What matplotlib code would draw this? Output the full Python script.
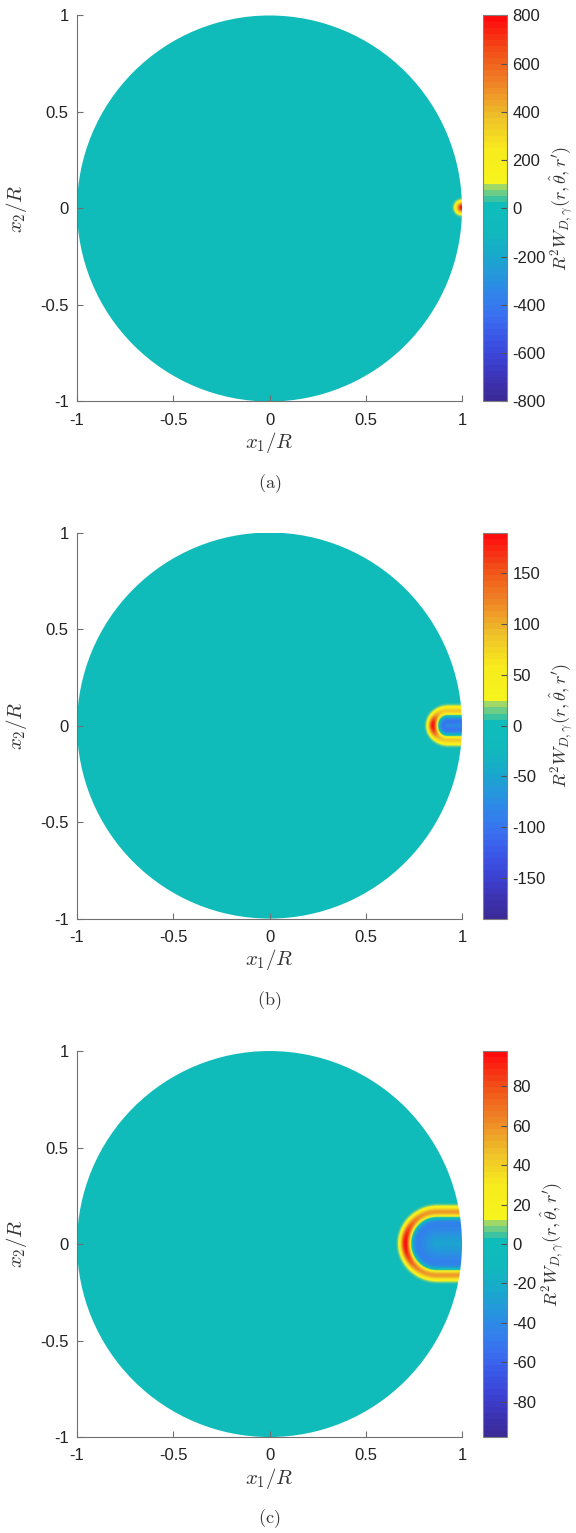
import numpy as np
import matplotlib
matplotlib.use('Agg')
import matplotlib.pyplot as plt
from matplotlib.colors import ListedColormap, LinearSegmentedColormap, Normalize
from matplotlib.patches import Circle

plt.rcParams['font.family'] = ['Liberation Sans', 'DejaVu Sans']
plt.rcParams['mathtext.fontset'] = 'cm'
plt.rcParams['axes.unicode_minus'] = False

# ---- data ----
panel_tags = ['(a)', '(b)', '(c)']
cbar_max = [800, 190, 98]
cbar_ticks = [
    [-800, -600, -400, -200, 0, 200, 400, 600, 800],
    [-150, -100, -50, 0, 50, 100, 150],
    [-80, -60, -40, -20, 0, 20, 40, 60, 80],
]
axis_ticks = [-1, -0.5, 0, 0.5, 1]
axis_tick_labels = ['-1', '-0.5', '0', '0.5', '1']

# U-shaped kernel near the boundary: bend centre, bend radius, ridge width
bend_x = [1.0, 0.925, 0.87]
bend_r = [0.0, 0.075, 0.163]
ridge_w = [0.028, 0.024, 0.026]
peak_val = [800, 190, 98]
arm_frac = [1.0, 0.45, 0.6]
neg_val = [0.0, -100.0, -45.0]
neg_core = [0.0, 0.7, 0.45]

# colormap (64 levels like the MATLAB one)
low_anchors = ['#3a2b98', '#3c34b8', '#3c44d6', '#3a58e8', '#3a70f0',
               '#3084ea', '#2598dc', '#18aacb', '#10b8bc', '#0ebcbc']
mid_colors = ['#10bcba', '#3cc3a0', '#6ccd86', '#a0d868']
high_anchors = ['#f6f41c', '#f8ea1e', '#eebf2a', '#ef8426', '#f25018', '#fe0c0c']

low = LinearSegmentedColormap.from_list('low', low_anchors)(np.linspace(0, 1, 32))
high = LinearSegmentedColormap.from_list('high', high_anchors)(np.linspace(0, 1, 28))
cmap = ListedColormap(list(low) + mid_colors + list(high))


def kernel(x, y, i):
    dx = bend_x[i] - x
    d = np.where(dx > 0, np.hypot(dx, y), np.abs(y))
    cosang = np.where(dx > 0, dx / np.maximum(d, 1e-9), 0.0)
    weight = arm_frac[i] + (1 - arm_frac[i]) * cosang ** 4
    a, w = bend_r[i], ridge_w[i]
    z = peak_val[i] * weight * np.exp(-((d - a) / w) ** 2)
    if neg_val[i] != 0:
        dn = a - 2.2 * w
        wn = 1.1 * w
        outer = np.exp(-((d - dn) / wn) ** 2)
        inner = neg_core[i] + (1 - neg_core[i]) * np.exp(-((d - dn) / (0.8 * dn)) ** 2)
        z = z + neg_val[i] * np.where(d > dn, outer, inner)
    return z


n = 1201
g = np.linspace(-1, 1, n)
X, Y = np.meshgrid(g, g)

fig = plt.figure(figsize=(5.76, 15.33), dpi=100)
bottoms = [0.7381, 0.4008, 0.0626]
label = r'$R^2W_{D,\gamma}(r,\hat{\theta},r^{\prime})$'

for i in range(3):
    ax = fig.add_axes([0.1337, bottoms[i], 0.6684, 0.2518])
    cax = fig.add_axes([0.8385, bottoms[i], 0.0417, 0.2518])

    Z = kernel(X, Y, i)
    vm = cbar_max[i]
    im = ax.imshow(Z, extent=[-1, 1, -1, 1], origin='lower', cmap=cmap,
                   norm=Normalize(-vm, vm), interpolation='bilinear')
    im.set_clip_path(Circle((0, 0), 1, transform=ax.transData))

    ax.set_xlim(-1, 1)
    ax.set_ylim(-1, 1)
    ax.set_aspect('auto')
    for s in ['top', 'right']:
        ax.spines[s].set_visible(False)
    for s in ['left', 'bottom']:
        ax.spines[s].set_color('#707070')
        ax.spines[s].set_linewidth(0.8)
    ax.set_xticks(axis_ticks)
    ax.set_xticklabels(axis_tick_labels)
    ax.set_yticks(axis_ticks)
    ax.set_yticklabels(axis_tick_labels)
    ax.tick_params(axis='x', pad=8)
    ax.tick_params(axis='y', pad=6)
    ax.tick_params(direction='in', length=4, width=0.8, color='#707070',
                   labelsize=12, labelcolor='#222222')
    ax.set_xlabel(r'$x_1/R$', fontsize=15, color='#333333', labelpad=2)
    ax.set_ylabel(r'$x_2/R$', fontsize=15, color='#333333', labelpad=8)

    cb = fig.colorbar(im, cax=cax, ticks=cbar_ticks[i])
    cb.outline.set_edgecolor('#808080')
    cb.outline.set_linewidth(0.8)
    cax.tick_params(direction='in', length=4, width=0.8, color='#505050',
                    labelsize=12, labelcolor='#222222', pad=4)
    cb.set_label(label, fontsize=13, color='#333333', labelpad=1)

    fig.text(0.468, bottoms[i] - 0.0535, r'$\mathrm{%s}$' % panel_tags[i],
             ha='center', va='center', fontsize=13, color='#333333')

fig.savefig('out.png', dpi=100, facecolor='white')
